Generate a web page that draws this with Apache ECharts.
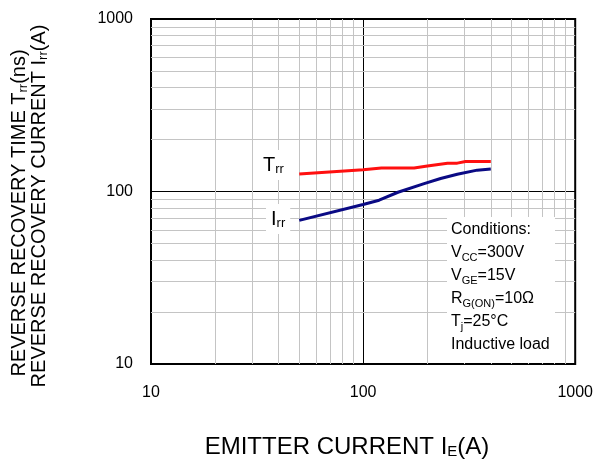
<!DOCTYPE html>
<html><head><meta charset="utf-8">
<script src="https://cdn.jsdelivr.net/npm/echarts@6/dist/echarts.min.js"></script>
<style>html,body{margin:0;padding:0;background:#fff}#c{width:596px;height:461px}</style>
</head><body><div id="c"></div>
<script>
var trrX = [50, 100, 122, 174, 201, 250, 278, 304, 400];
var trrY = [126.5, 133.5, 137, 137, 140.7, 146, 146, 149.3, 149.3];
var irrX = [50, 100, 119, 146, 194, 232, 278, 345, 400];
var irrY = [68, 84, 89, 99, 111, 119, 126, 133, 135];
var xTicks = [10, 100, 1000];
var yTicks = [10, 100, 1000];
var minorVals = [20, 30, 40, 50, 60, 70, 80, 90, 200, 300, 400, 500, 600, 700, 800, 900];

var F = 'Liberation Sans, Arial, sans-serif';
function pairs(xs, ys){ return xs.map(function(x,i){ return [x, ys[i]]; }); }
var grid = [];
minorVals.forEach(function(v){ grid.push({xAxis: v}); grid.push({yAxis: v}); });

var chart = echarts.init(document.getElementById('c'));
chart.setOption({
  animation: false,
  grid: {left: 151, right: 17, top: 19, bottom: 97, show: true, borderColor: '#000', borderWidth: 2, backgroundColor: 'transparent'},
  xAxis: {
    type: 'log', logBase: 10, min: 10, max: 1000,
    axisLine: {show: false}, axisTick: {show: false},
    axisLabel: {fontFamily: F, fontSize: 16, color: '#000', margin: 21, formatter: function(v){ return xTicks.indexOf(Math.round(v))>=0 ? String(Math.round(v)) : ''; }},
    splitLine: {show: true, lineStyle: {color: '#000', width: 1}},
    minorTick: {show: false}, minorSplitLine: {show: false}
  },
  yAxis: {
    type: 'log', logBase: 10, min: 10, max: 1000,
    axisLine: {show: false}, axisTick: {show: false},
    axisLabel: {fontFamily: F, fontSize: 16, color: '#000', margin: 18, formatter: function(v){ return yTicks.indexOf(Math.round(v))>=0 ? String(Math.round(v)) : ''; }},
    splitLine: {show: true, lineStyle: {color: '#000', width: 1}}
  },
  series: [
    {type: 'line', data: [], silent: true, z: 1,
     markLine: {silent: true, symbol: ['none','none'], label: {show: false},
       lineStyle: {color: '#c4c4c4', width: 1, type: 'solid'}, data: grid, animation: false}},
    {name: 'Trr', type: 'line', data: pairs(trrX, trrY), showSymbol: false, symbol: 'none', z: 5,
     lineStyle: {color: '#ff1010', width: 3}},
    {name: 'Irr', type: 'line', data: pairs(irrX, irrY), showSymbol: false, symbol: 'none', z: 5,
     lineStyle: {color: '#0a0a84', width: 3}}
  ],
  graphic: [
    {type: 'text', left: 258, top: 150, z: 10, style: {text: 'T{s|rr}', fontFamily: F, fontSize: 20, fill: '#000', backgroundColor: '#fff', padding: [4,5,4,5],
      rich: {s: {fontSize: 13, fontFamily: F, verticalAlign: 'bottom', padding: [9,0,0,0]}}}},
    {type: 'text', left: 266, top: 204, z: 10, style: {text: 'I{s|rr}', fontFamily: F, fontSize: 20, fill: '#000', backgroundColor: '#fff', padding: [4,5,4,5],
      rich: {s: {fontSize: 13, fontFamily: F, verticalAlign: 'bottom', padding: [9,0,0,0]}}}},
    {type: 'rect', shape: {x: 447, y: 217, width: 108, height: 146}, style: {fill: '#fff'}, z: 8},
    {type: 'text', left: 451, top: 218, z: 10, style: {
      text: 'Conditions:\nV{s|CC}=300V\nV{s|GE}=15V\nR{s|G(ON)}=10Ω\nT{s|j}=25°C\nInductive load',
      fontFamily: F, fontSize: 16, fill: '#000', lineHeight: 23,
      rich: {s: {fontSize: 11, fontFamily: F, lineHeight: 23, padding: [10,0,0,0]}}}},
    {type: 'text', x: 347, y: 447, z: 10, style: {text: 'EMITTER CURRENT I{s|E}(A)', fontFamily: F, fontSize: 24, fill: '#000', align: 'center', verticalAlign: 'middle',
      rich: {s: {fontSize: 15, fontFamily: F, padding: [10,0,0,0]}}}},
    {type: 'text', x: 19, y: 213, rotation: Math.PI/2, z: 10, style: {text: 'REVERSE RECOVERY TIME T{s|rr}(ns)', fontFamily: F, fontSize: 20, fill: '#000', align: 'center', verticalAlign: 'middle',
      rich: {s: {fontSize: 13, fontFamily: F, padding: [9,0,0,0]}}}},
    {type: 'text', x: 39, y: 206, rotation: Math.PI/2, z: 10, style: {text: 'REVERSE RECOVERY CURRENT I{s|rr}(A)', fontFamily: F, fontSize: 20, fill: '#000', align: 'center', verticalAlign: 'middle',
      rich: {s: {fontSize: 13, fontFamily: F, padding: [9,0,0,0]}}}}
  ]
});
</script></body></html>
